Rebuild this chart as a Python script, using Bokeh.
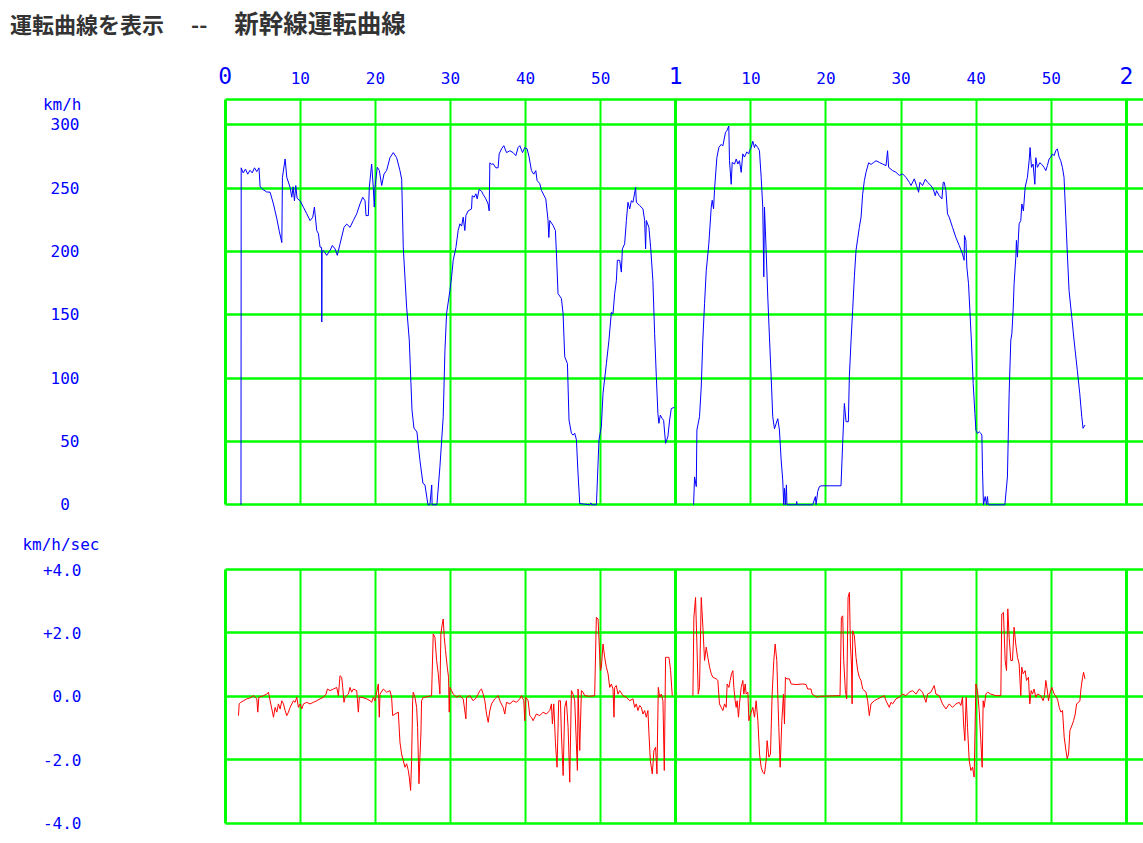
from bokeh.plotting import figure
from bokeh.models import Range1d, FixedTicker, LinearAxis, Grid, Div
from bokeh.layouts import column
from bokeh.embed import file_html
from bokeh.resources import INLINE

NaN = float("nan")

title_part1 = "運転曲線を表示"
title_sep = " -- "
title_part2 = "新幹線運転曲線"
speed_unit = "km/h"
accel_unit = "km/h/sec"

minute_ticks = [10, 20, 30, 40, 50, 70, 80, 90, 100, 110]
minute_labels = ["10", "20", "30", "40", "50", "10", "20", "30", "40", "50"]
hour_ticks = [0, 60, 120]
hour_labels = ["0", "1", "2"]
speed_ticks = [0, 50, 100, 150, 200, 250, 300]
speed_labels = ["0\u00a0", "50", "100", "150", "200", "250", "300"]
speed_grid = [0, 50, 100, 150, 200, 250, 300, 320]
speed_unit_pos = 316.0
accel_ticks = [-4, -2, 0, 2, 4]
accel_labels = ["-4.0", "-2.0", "0.0", "+2.0", "+4.0"]
accel_unit_pos = 4.79

# elapsed time (minutes) and speed (km/h)
speed_t = [
    2.10, 2.13, 2.40, 2.70, 3.00, 3.30, 3.60, 3.90, 4.20, 4.50, 4.65, 5.00, 5.50, 5.98, 6.42, 6.88,
    7.20, 7.54, 7.62, 7.98, 8.20, 8.64, 8.87, 9.04, 9.22, 9.40, 9.57, 9.97, 10.41, 10.86, 11.30,
    11.66, 11.88, 12.06, 12.19, 12.41, 12.63, 12.84, 12.86, 12.90, 13.07, 13.52, 13.96, 14.27,
    14.63, 14.93, 15.29, 15.82, 16.18, 16.62, 17.06, 17.51, 17.95, 18.31, 18.62, 18.75, 19.06,
    19.19, 19.50, 19.72, 19.85, 19.95, 20.25, 20.52, 20.84, 21.14, 21.50, 21.94, 22.38, 22.83,
    23.27, 23.50, 23.71, 24.16, 24.51, 24.87, 25.13, 25.53, 25.93, 26.33, 26.60, 27.00, 27.26,
    27.50, 27.55, 28.19, 28.59, 29.03, 29.26, 29.48, 29.92, 30.15, 30.36, 30.72, 31.02, 31.25,
    31.48, 31.69, 31.91, 32.05, 32.35, 32.80, 32.89, 33.15, 33.38, 33.55, 33.82, 34.14, 34.35,
    34.71, 35.01, 35.15, 35.24, 35.47, 35.68, 36.04, 36.34, 36.48, 36.80, 37.10, 37.46, 37.90,
    38.34, 38.70, 39.00, 39.23, 39.59, 39.89, 40.20, 40.47, 40.78, 41.09, 41.36, 41.53, 41.89,
    42.12, 42.69, 42.99, 43.09, 43.22, 43.66, 43.97, 44.11, 44.32, 44.77, 44.99, 45.21, 45.57,
    45.78, 46.10, 46.32, 46.54, 46.77, 46.98, 47.21, 48.54, 48.70, 48.80, 49.43, 49.77, 50.09,
    50.31, 50.76, 51.10, 51.42, 51.64, 51.86, 52.09, 52.22, 52.53, 52.75, 52.89, 53.19, 53.42,
    53.63, 53.86, 54.08, 54.30, 54.65, 54.75, 55.19, 55.63, 55.85, 55.98, 56.08, 56.42, 56.65,
    56.95, 57.18, 57.41, 57.62, 57.75, 57.94, 58.20, 58.38, 58.64, 58.95, 59.18, 59.40, 59.84,
    NaN,
    62.37, 62.50, 62.73, 62.81, 63.16, 63.39, 63.60, 63.83, 64.06, 64.40, 64.72, 64.85, 65.03,
    65.16, 65.47, 65.73, 66.05, 66.26, 66.62, 66.80, 67.06, 67.15, 67.38, 67.51, 67.82, 68.05,
    68.26, 68.48, 68.71, 68.92, 69.15, 69.45, 69.72, 69.81, 70.04, 70.25, 70.48, 70.61, 70.92,
    71.14, 71.37, 71.58, 71.72, 71.81, 72.03, 72.25, 72.47, 72.70, 72.91, 73.14, 73.36, 73.58,
    73.80, 74.03, 74.24, 74.37, 74.47, 74.60, 74.73, 74.80, 76.06, 76.10, 76.15, 78.23, 78.59,
    78.68, 78.90, 79.12, 79.35, 82.00, 82.22, 82.45, 82.67, 82.98, 83.11, 83.34, 83.55, 83.78,
    84.00, 84.22, 84.44, 84.67, 84.88, 85.11, 85.33, 85.68, 86.00, 86.30, 86.66, 87.10, 87.54,
    87.99, 88.20, 88.34, 88.87, 89.32, 89.76, 90.20, 90.65, 91.09, 91.32, 91.76, 92.06, 92.33,
    92.51, 92.86, 93.22, 93.52, 93.97, 94.28, 94.55, 94.72, 95.08, 95.44, 95.61, 95.74, 95.97,
    96.18, 96.41, 96.85, 97.30, 97.74, 98.18, 98.40, 98.44, 98.63, 98.76, 98.98, 99.16, 99.38,
    99.60, 99.83, 99.96, 100.17, 100.40, 100.62, 100.76, 100.84, 100.97, 101.20, 101.37, 101.50,
    101.60, 103.82, 104.16, 104.39, 104.61, 104.75, 104.92, 105.05, 105.28, 105.36, 105.49,
    105.72, 105.94, 106.08, 106.29, 106.52, 106.82, 107.05, 107.18, 107.36, 107.58, 107.81,
    107.94, 108.15, 108.47, 108.74, 109.04, 109.27, 109.48, 109.71, 109.93, 110.15, 110.37,
    110.60, 110.81, 111.04, 111.26, 111.48, 111.70, 111.93, 112.14, 112.37, 112.73, 113.03,
    113.47, 113.79, 114.06, 114.23, 114.49,
]
speed_kmh = [
    0, 266, 262, 265, 261, 264, 262, 266, 263, 266, 251, 249, 247, 246.7, 237.5, 225.7,
    216, 207, 258.5, 273, 258.5, 250.6, 242.8, 251, 240, 252, 242, 240, 235, 229.7, 224.4,
    227, 235, 224, 216.5, 214, 203.4, 203, 144.3, 200, 200.8, 196.9, 200.8, 204.7,
    202, 196.9, 206, 219, 221.6, 219, 224.4, 229.7, 237.5, 242.8, 240, 228.3, 228.3,
    250.6, 269, 250.6, 235, 250.6, 266.4, 264, 252, 261, 264, 274, 278, 274,
    263.8, 257, 203.4, 156, 130, 75, 60.6, 57.5, 35, 17, 15.7, 0, 0,
    15.7, 0, 0, 30, 69.5, 122, 151, 169, 180, 193, 203, 216.5, 221.8,
    220, 227, 216.5, 228.3, 232, 233.5, 244, 242.8, 245.5, 241.5, 249, 247.5, 245,
    241.5, 237.5, 232, 270, 268.7, 269.3, 266, 266, 277, 281, 283.5, 278, 279.5,
    278, 275.6, 282, 283.5, 278, 282, 281, 274.5, 263.8, 261, 263.8, 256, 253.5,
    248, 241.5, 224.4, 211, 224.4, 220.5, 216.5, 198, 166.7, 162.8, 151, 116.8, 111.5,
    67, 56.5, 55, 56.5, 51.3, 25, 1, 0, 1.5, 0, 0, 51, 62,
    88, 111.5, 130, 152, 150.7, 166.7, 177, 193, 193, 183.7, 202, 206, 224.4,
    238.8, 233.5, 240, 238.8, 250.6, 238.8, 236.2, 233.6, 224.4, 202, 224.4, 219, 203.4,
    177, 135.4, 101, 72, 64.3, 70.8, 68, 66.7, 48.5, 53.8, 67, 76, 77,
    NaN,
    0, 22, 14.4, 59, 69.5, 93, 130, 159, 185, 206, 235, 240.4, 233.6,
    249, 274, 282, 284.5, 283.2, 294, 295.3, 299, 271.6, 253, 270.3, 269, 273,
    269, 271.6, 262.4, 277, 274.5, 278.5, 277, 279.5, 282, 287, 282, 284.5, 282,
    279.5, 258.5, 235, 180, 235, 200.8, 164, 132.5, 101, 69.5, 60, 64, 68,
    59, 35.4, 19.7, 0, 13, 0, 15.7, 0, 0, 2.6, 0, 0, 6.5,
    0, 10.5, 14.4, 15, 15, 48.5, 80, 65.6, 65.6, 101, 130, 153.5, 180,
    200.8, 210, 219, 227, 245, 256, 262.4, 270, 268.7, 270, 271.6, 270.3, 269,
    267.7, 279.5, 266.4, 263.8, 262.5, 260, 261.2, 258.5, 254.6, 252, 257.3, 252, 246.7,
    254.6, 252, 257, 254.6, 252, 249.3, 244, 248, 244, 241.5, 254.6, 254.6, 248,
    229.7, 227, 219, 211, 204.7, 198, 193, 212.6, 208.7, 187.6, 174.5, 153.5, 127,
    95.8, 72, 59, 56.4, 57.7, 56.4, 55, 27.6, 0, 6.5, 0, 6.5,
    0, 0, 22, 88, 130, 135, 153.5, 174.5, 195.5, 208.7, 195.5,
    221.8, 224.4, 237.5, 232, 250.6, 258.5, 271.6, 282, 266.4, 269, 253,
    274, 266.4, 270, 268.7, 266.4, 263.8, 267.7, 273, 274.5, 277, 275.6,
    279.5, 281, 274.5, 271.6, 266.4, 258.5, 227, 198, 169, 148, 130,
    106, 88, 69.5, 60.4, 63,
]

# elapsed time (minutes) and acceleration (km/h/sec)
accel_t = [
    1.77, 1.86, 2.08, 2.44, 2.88, 3.32, 3.77, 4.21, 4.34, 4.48, 5.10, 5.54, 5.76, 5.98, 6.21,
    6.43, 6.65, 6.87, 7.09, 7.31, 7.54, 7.76, 7.98, 8.20, 8.42, 8.64, 8.87, 9.09, 9.31, 9.53,
    9.75, 9.97, 10.20, 10.42, 10.86, 11.30, 11.75, 12.19, 12.63, 13.08, 13.43, 13.61, 13.96,
    14.41, 14.85, 15.07, 15.29, 15.51, 15.65, 15.82, 15.96, 16.40, 16.62, 16.84, 17.07, 17.51,
    17.73, 17.86, 18.17, 18.84, 19.28, 19.50, 19.73, 19.95, 20.17, 20.39, 20.52, 20.61, 21.06,
    21.50, 21.94, 22.16, 22.30, 22.61, 23.05, 23.27, 23.49, 23.71, 23.94, 24.16, 24.38, 24.51,
    24.69, 24.82, 24.96, 25.04, 25.27, 25.49, 25.62, 25.80, 25.93, 26.06, 26.15, 26.37, 26.60,
    27.48, 27.70, 27.93, 28.15, 28.37, 28.59, 28.72, 28.90, 29.03, 29.17, 29.34, 29.57, 29.74,
    29.83, 29.92, 30.14, 30.36, 30.59, 30.81, 31.25, 31.69, 32.05, 32.14, 32.58, 33.02, 33.47,
    33.91, 34.13, 34.35, 34.57, 34.80, 35.02, 35.24, 35.46, 35.90, 36.35, 36.57, 37.01, 37.23,
    37.46, 37.90, 38.34, 38.79, 39.23, 39.45, 39.76, 39.89, 40.03, 40.34, 40.56, 40.78, 41.00,
    41.44, 41.89, 42.33, 42.77, 43.22, 43.44, 43.57, 43.75, 43.97, 44.19, 44.41, 44.64, 44.77,
    45.00, 45.21, 45.43, 45.66, 45.88, 46.10, 46.32, 46.54, 46.76, 46.90, 46.99, 47.21, 47.43,
    47.65, 47.87, 48.50, 49.20, 49.42, 49.65, 49.78, 49.96, 50.09, 50.31, 50.53, 50.75, 50.98,
    51.20, 51.42, 51.64, 51.77, 51.86, 52.08, 52.30, 52.53, 52.97, 53.41, 53.86, 54.30, 54.52,
    54.74, 54.96, 55.19, 55.41, 55.63, 55.85, 56.07, 56.29, 56.43, 56.61, 56.87, 57.09, 57.31,
    57.49, 57.67, 57.85, 58.07, 58.29, 58.47, 58.64, 58.87, 59.09, 59.31, 59.53,
    NaN,
    62.28, 62.41, 62.63, 62.81, 62.99, 63.16, 63.39, 63.61, 63.83, 64.05, 64.27, 64.50, 64.72,
    64.94, 65.38, 65.60, 65.82, 66.05, 66.27, 66.49, 66.71, 66.84, 67.07, 67.24, 67.42, 67.60,
    67.73, 67.91, 68.04, 68.17, 68.35, 68.48, 68.71, 68.93, 69.06, 69.24, 69.37, 69.60, 69.73,
    69.95, 70.26, 70.48, 70.70, 70.93, 71.15, 71.37, 71.59, 71.81, 72.03, 72.16, 72.39, 72.61,
    72.83, 73.05, 73.23, 73.45, 73.58, 73.72, 73.90, 74.12, 74.34, 74.47, 74.60, 74.78, 75.13,
    75.35, 76.02, 76.91, 77.35, 77.57, 78.01, 78.15, 78.46, 78.90, 79.12, 81.87, 82.05, 82.23,
    82.36, 82.58, 82.76, 82.94, 83.12, 83.25, 83.39, 83.48, 83.56, 83.78, 84.00, 84.22, 84.44,
    84.66, 84.89, 85.33, 85.55, 85.77, 85.99, 86.44, 86.88, 87.32, 87.77, 87.99, 88.43, 88.65,
    88.87, 89.32, 89.76, 90.20, 90.65, 91.09, 91.53, 91.98, 92.42, 92.86, 93.31, 93.53, 93.97,
    94.41, 94.64, 95.08, 95.52, 95.97, 96.41, 96.85, 97.30, 97.74, 97.96, 98.18, 98.32, 98.49,
    98.67, 98.85, 99.07, 99.29, 99.51, 99.73, 99.96, 100.18, 100.40, 100.62, 100.80, 100.93,
    101.06, 101.29, 101.51, 101.95, 102.62, 103.28, 103.41, 103.63, 103.86, 104.04, 104.21,
    104.39, 104.61, 104.83, 105.05, 105.27, 105.50, 105.72, 105.94, 106.07, 106.25, 106.52,
    106.70, 106.96, 107.14, 107.32, 107.50, 107.71, 107.93, 108.16, 108.60, 108.91, 109.09,
    109.27, 109.45, 109.63, 109.85, 110.07, 110.39, 110.70, 110.88, 111.06, 111.28, 111.50,
    111.72, 111.95, 112.12, 112.30, 112.48, 112.75, 112.97, 113.19, 113.37, 113.64, 113.81,
    113.95, 114.17, 114.30, 114.48,
]
accel_kmhs = [
    -0.61, -0.24, -0.19, -0.14, -0.08, -0.05, 0.02, -0.08, -0.50, -0.03, 0.02, 0.07, 0.13, -0.14, -0.40,
    -0.66, -0.35, -0.50, -0.24, -0.40, -0.14, -0.24, -0.45, -0.61, -0.50, -0.35, -0.24, -0.14, -0.19, -0.03,
    -0.35, -0.24, -0.40, -0.24, -0.19, -0.24, -0.19, -0.14, -0.08, -0.03, 0.07, 0.23, 0.18,
    0.23, 0.28, 0.02, 0.65, 0.60, 0.28, -0.19, -0.03, 0.07, 0.28, 0.13, 0.23, 0.18,
    -0.50, -0.03, -0.03, -0.08, -0.14, -0.19, -0.03, -0.14, 0.13, 0.39, -0.66, 0.07, 0.23,
    0.13, 0.18, -0.03, -0.61, -0.56, -0.50, -1.45, -1.82, -2.03, -2.24, -2.13, -2.34, -2.55,
    -2.97, -2.03, -0.14, 0.13, -0.03, -0.35, -0.98, -2.76, -1.92, -1.19, -0.14, -0.03, -0.03,
    0.02, 1.97, 1.86, 1.13, 0.71, 0.07, 1.97, 2.28, 2.44, 1.86, 1.44, 0.92, 0.60,
    -0.50, 0.28, 0.18, 0.07, 0.02, -0.03, 0.02, -0.08, -0.71, -0.03, 0.02, -0.14, -0.03,
    0.18, 0.23, 0.07, -0.14, -0.56, -0.82, -0.45, -0.24, -0.08, 0.02, -0.14, -0.35, -0.56,
    -0.19, -0.24, -0.14, -0.19, -0.08, 0.02, -0.14, -0.77, -0.03, -0.14, -0.61, -0.66, -0.77,
    -0.56, -0.61, -0.50, -0.56, -0.45, -0.24, -0.87, -0.24, -1.45, -2.24, -0.14, -0.14, -1.19,
    -2.50, -0.35, -0.14, -0.98, -2.71, 0.18, 0.07, -0.14, -1.50, -2.34, 0.23, -1.71, 0.18,
    0.13, 0.02, 0.00, 0.02, 2.49, 2.44, 1.76, 0.81, 0.92, 1.65, 1.23, 0.92, 0.71,
    0.28, 0.39, 0.23, -0.66, 0.28, 0.34, 0.07, 0.18, 0.02, -0.03, -0.14, -0.08, -0.35,
    -0.24, -0.45, -0.29, -0.35, -0.56, -0.45, -0.66, -0.45, -1.19, -2.03, -2.45, -1.71, -1.61,
    -2.45, 0.28, -0.03, 0.07, -0.14, -2.34, 1.23, 1.23, 1.23, 0.81, 0.02,
    NaN,
    0.02, 2.49, 3.12, 1.65, 0.07, 0.28, 3.12, 2.18, 1.13, 1.55, 1.23, 0.92, 0.71,
    0.60, 0.55, 0.50, -0.24, -0.35, -0.45, -0.24, -0.35, 0.39, 0.28, 0.50, 0.71, 0.81,
    0.28, -0.14, -0.35, -0.14, -0.66, -0.24, 0.28, 0.50, 0.07, 0.39, 0.07, 0.13, -0.77,
    -0.56, -0.35, -0.66, -0.14, -0.77, -1.82, -2.24, -2.40, -2.45, -2.03, -1.40, -1.92, -1.82,
    0.07, 1.13, 1.65, 1.13, 0.07, -0.98, -2.24, -0.77, 0.07, -0.87, 0.60, 0.55, 0.55,
    0.39, 0.37, 0.39, 0.37, 0.23, 0.23, 0.07, 0.02, -0.03, 0.00, 0.02, 2.49, 2.54,
    1.13, 0.18, -0.08, 3.12, 3.28, 1.65, 1.02, -0.24, 2.07, 1.91, 1.23, 0.81, 0.60,
    0.50, 0.23, 0.13, -0.14, -0.61, -0.24, -0.14, -0.08, -0.03, 0.02, -0.14, -0.35, -0.19,
    -0.24, -0.08, -0.03, 0.07, 0.02, 0.13, 0.18, 0.07, 0.23, 0.13, -0.19, 0.07, 0.13,
    0.34, 0.07, 0.02, -0.24, -0.40, -0.24, -0.35, -0.24, -0.19, -0.29, -0.03, -0.87, -1.40,
    -0.03, -0.98, -2.03, -2.34, -2.24, -2.55, 0.39, 0.18, -0.45, -1.40, -2.24, -0.14,
    -0.35, 0.07, 0.13, 0.07, 0.02, 0.02, 2.60, 2.65, 1.13, 0.81, 2.76,
    1.86, 1.13, 1.13, 2.18, 1.65, 1.23, 1.02, 0.02, 0.92, 0.71, 0.81,
    0.50, 0.60, -0.24, 0.18, 0.07, 0.23, -0.03, 0.07, 0.02, -0.14, 0.02,
    0.50, 0.23, -0.14, 0.13, 0.28, 0.07, -0.03, -0.14, -0.35, -0.50, -0.45,
    -1.29, -1.71, -1.97, -1.82, -1.08, -0.92, -0.77, -0.56, -0.24, -0.19, -0.14,
    0.23, 0.60, 0.76, 0.55,
]

BLUE = "#0000ff"
RED = "#ff0000"
GREEN = "#00ff00"
MONO = "DejaVu Sans Mono"
W = 1143

x_range = Range1d(-0.36, 122.28)


def base_fig(height, y_range, top, bottom):
    p = figure(width=W, height=height, x_range=x_range, y_range=y_range,
               x_axis_location=None, y_axis_location=None,
               toolbar_location=None, output_backend="svg",
               min_border_left=222, min_border_right=0,
               min_border_top=top, min_border_bottom=bottom,
               outline_line_color=None, background_fill_color="white",
               border_fill_color="white")
    p.grid.visible = False
    return p


def add_grids(p, h_ticks, y_lo, y_hi):
    p.add_layout(Grid(dimension=0, ticker=FixedTicker(ticks=minute_ticks),
                      grid_line_color=GREEN, grid_line_width=2,
                      cross_bounds=(y_lo, y_hi)))
    p.add_layout(Grid(dimension=0, ticker=FixedTicker(ticks=hour_ticks),
                      grid_line_color=GREEN, grid_line_width=3,
                      cross_bounds=(y_lo, y_hi)))
    p.add_layout(Grid(dimension=1, ticker=FixedTicker(ticks=h_ticks),
                      grid_line_color=GREEN, grid_line_width=2.5,
                      cross_bounds=(0, x_range.end)))


def text_axis(ticks, labels, standoff, size="16px"):
    return LinearAxis(ticker=FixedTicker(ticks=ticks),
                      major_label_overrides=dict(zip(ticks, labels)),
                      axis_line_color=None, major_tick_line_color=None,
                      minor_tick_line_color=None, major_tick_out=0, major_tick_in=0,
                      major_label_text_font=MONO, major_label_text_font_size=size,
                      major_label_text_color=BLUE, major_label_standoff=standoff)


# ---- speed panel ----
p1 = base_fig(472, Range1d(-2.92, 322.3), 48, 12)
add_grids(p1, speed_grid, 0, 320)
p1.add_layout(text_axis(minute_ticks, minute_labels, 13), "above")
p1.add_layout(text_axis(hour_ticks, hour_labels, -15, "23px"), "above")
p1.add_layout(text_axis(speed_ticks, speed_labels, 143), "left")
p1.add_layout(text_axis([speed_unit_pos], [speed_unit], -34), "left")
p1.line(speed_t, speed_kmh, line_color=BLUE, line_width=1)

# ---- acceleration panel ----
p2 = base_fig(322, Range1d(-4.078, 5.202), 11, 17)
add_grids(p2, accel_ticks, -4, 4)
p2.add_layout(text_axis(accel_ticks, accel_labels, 141), "left")
p2.add_layout(text_axis([accel_unit_pos], [accel_unit], -60), "left")
p2.line(accel_t, accel_kmhs, line_color=RED, line_width=1)

title = Div(text=('<div style="font-family:\'Noto Sans CJK JP\';font-weight:700;'
                  'color:#333333;white-space:pre;padding:5px 0 0 10px;">'
                  '<span style="font-size:22px;">' + title_part1 + '</span>'
                  '<span style="font-size:22px;word-spacing:22px;">' + title_sep + '</span>'
                  '<span style="font-size:24.5px;">' + title_part2 + '</span></div>'),
            width=W, height=48, margin=(0, 0, 0, 0))

layout = column(title, p1, p2, spacing=0)

open("out.html", "w").write(file_html(layout, INLINE))
